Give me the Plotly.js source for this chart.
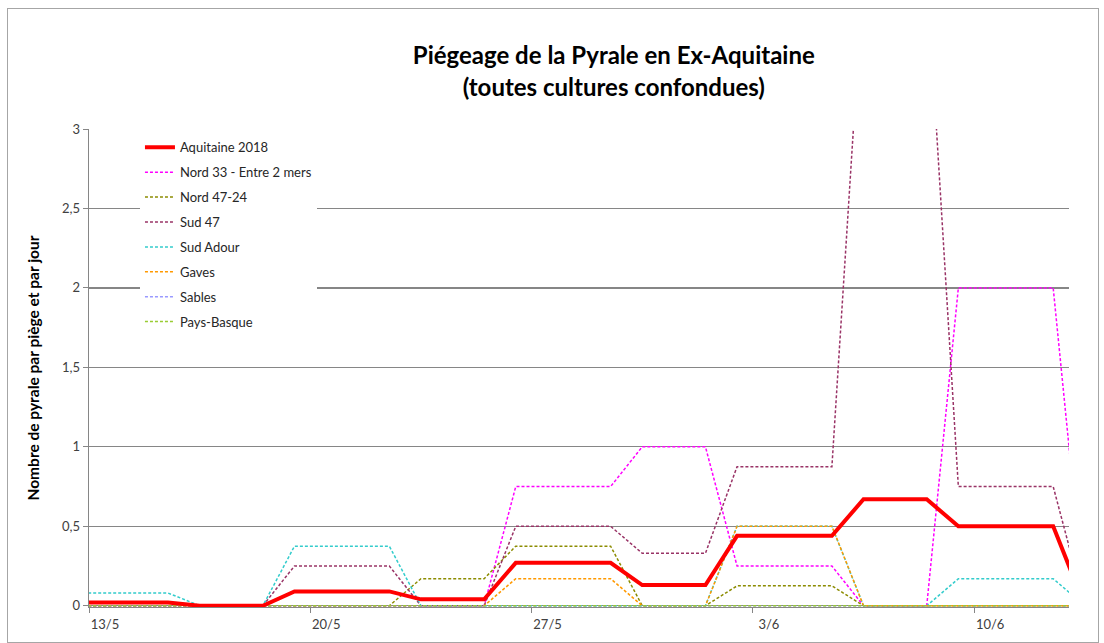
<!DOCTYPE html>
<html>
<head>
<meta charset="utf-8">
<script src="https://cdn.plot.ly/plotly-3.0.1.min.js"></script>
<style>
  html, body { margin: 0; padding: 0; background: #ffffff; }
  #chart { position: absolute; left: 0; top: 0; width: 1104px; height: 643px; }
  #frame { position: absolute; left: 7px; top: 8px; width: 1090px; height: 633px; border: 1px solid #a6a6a6; pointer-events: none; }
</style>
</head>
<body>
<div id="chart"></div>
<div id="frame"></div>
<script>
// Daily dates, 12/5/2018 .. 13/6/2018
const dates = [
  '2018-05-12','2018-05-13','2018-05-14','2018-05-15','2018-05-16','2018-05-17','2018-05-18',
  '2018-05-19','2018-05-20','2018-05-21','2018-05-22','2018-05-23','2018-05-24','2018-05-25',
  '2018-05-26','2018-05-27','2018-05-28','2018-05-29','2018-05-30','2018-05-31','2018-06-01',
  '2018-06-02','2018-06-03','2018-06-04','2018-06-05','2018-06-06','2018-06-07','2018-06-08',
  '2018-06-09','2018-06-10','2018-06-11','2018-06-12','2018-06-13'
];

const aquitaine2018 = [0.02,0.02,0.02,0.02, 0,0,0, 0.09,0.09,0.09,0.09, 0.04,0.04,0.04,
  0.27,0.27,0.27,0.27, 0.13,0.13,0.13, 0.44,0.44,0.44,0.44, 0.67,0.67,0.67, 0.5,0.5,0.5,0.5, 0];
const nord33 = [0,0,0,0, 0,0,0, 0,0,0,0, 0,0,0,
  0.75,0.75,0.75,0.75, 1,1,1, 0.25,0.25,0.25,0.25, 0,0,0, 2,2,2,2, 0];
const nord4724 = [0,0,0,0, 0,0,0, 0,0,0,0, 0.17,0.17,0.17,
  0.375,0.375,0.375,0.375, 0,0,0, 0.125,0.125,0.125,0.125, 0,0,0, 0,0,0,0, 0];
const sud47 = [0,0,0,0, 0,0,0, 0.25,0.25,0.25,0.25, 0,0,0,
  0.5,0.5,0.5,0.5, 0.33,0.33,0.33, 0.875,0.875,0.875,0.875, 4,4,4, 0.75,0.75,0.75,0.75, 0];
const sudAdour = [0.08,0.08,0.08,0.08, 0,0,0, 0.375,0.375,0.375,0.375, 0,0,0,
  0,0,0,0, 0,0,0, 0.5,0.5,0.5,0.5, 0,0,0, 0.17,0.17,0.17,0.17, 0];
const gaves = [0,0,0,0, 0,0,0, 0,0,0,0, 0,0,0,
  0.17,0.17,0.17,0.17, 0,0,0, 0.5,0.5,0.5,0.5, 0,0,0, 0,0,0,0, 0];
const sables = [0,0,0,0, 0,0,0, 0,0,0,0, 0,0,0,
  0,0,0,0, 0,0,0, 0,0,0,0, 0,0,0, 0,0,0,0, 0];
const paysBasque = [0,0,0,0, 0,0,0, 0,0,0,0, 0,0,0,
  0,0,0,0, 0,0,0, 0,0,0,0, 0,0,0, 0,0,0,0, 0];

const tickDates = ['2018-05-13','2018-05-20','2018-05-27','2018-06-03','2018-06-10'];
const tickLabels = ['13/5','20/5','27/5','3/6','10/6'];

const seriesNames = ['Aquitaine 2018','Nord 33 - Entre 2 mers','Nord 47-24','Sud 47','Sud Adour','Gaves','Sables','Pays-Basque'];
const seriesValues = [aquitaine2018, nord33, nord4724, sud47, sudAdour, gaves, sables, paysBasque];
const seriesColors = ['#ff0000','#ff00ff','#8c8c00','#993366','#33cccc','#ff9900','#9999ff','#99cc33'];

const HALF_DAY = 12 * 3600 * 1000;
function shift(d, ms) {
  const t = new Date(d + 'T00:00:00Z').getTime() + ms;
  return new Date(t).toISOString().replace('T', ' ').replace('Z', '').slice(0, 19);
}

const traces = [];
// dashed regional series first, then the main red series on top
for (let i = 1; i < seriesNames.length; i++) {
  traces.push({
    type: 'scatter', mode: 'lines', x: dates, y: seriesValues[i], name: seriesNames[i],
    line: { color: seriesColors[i], width: 1.5, dash: '3px,2px' },
    legendrank: i + 1, legendgroup: 'g' + i, hoverinfo: 'x+y+name'
  });
}
traces.push({
  type: 'scatter', mode: 'lines', x: dates, y: seriesValues[0], name: seriesNames[0],
  line: { color: seriesColors[0], width: 4 },
  legendrank: 1, legendgroup: 'g0'
});

const layout = {
  width: 1104, height: 643,
  margin: { l: 89, r: 35, t: 129, b: 36 },
  paper_bgcolor: '#ffffff', plot_bgcolor: '#ffffff',
  separators: ', ',
  font: { family: 'Lato, "Open Sans", sans-serif', size: 12, color: '#404040' },
  title: {
    text: '<b>Piégeage de la Pyrale en Ex-Aquitaine</b><br><b>(toutes cultures confondues)</b>',
    font: { family: 'Lato, "Open Sans", sans-serif', size: 24, color: '#000000' },
    x: 0.556, xanchor: 'center', y: 0.9, yanchor: 'middle'
  },
  showlegend: true,
  legend: {
    x: 0.052, xanchor: 'left', y: 0.993, yanchor: 'top',
    bgcolor: '#ffffff', borderwidth: 0,
    font: { family: 'Lato, "Open Sans", sans-serif', size: 13, color: '#262626' },
    traceorder: 'grouped', tracegroupgap: 5
  },
  xaxis: {
    type: 'date',
    range: [shift('2018-05-13', -HALF_DAY), shift('2018-06-13', -HALF_DAY)],
    tickmode: 'array',
    tickvals: tickDates.map(d => shift(d, -HALF_DAY)),
    ticktext: tickLabels,
    ticklabelshift: 16,
    ticks: 'outside', ticklen: 5, tickcolor: '#868686', tickwidth: 1,
    showgrid: false, zeroline: false,
    showline: true, linecolor: '#868686', linewidth: 1.3,
    tickfont: { family: 'Lato, "Open Sans", sans-serif', size: 13, color: '#404040' },
    fixedrange: true
  },
  yaxis: {
    range: [-0.008, 3],
    tickmode: 'array',
    tickvals: [0, 0.5, 1, 1.5, 2, 2.5, 3],
    ticks: 'outside', ticklen: 5, tickcolor: '#868686', tickwidth: 1,
    showgrid: true, gridcolor: '#868686', gridwidth: 1.3,
    zeroline: false,
    showline: true, linecolor: '#868686', linewidth: 1.3,
    tickfont: { family: 'Lato, "Open Sans", sans-serif', size: 13, color: '#404040' },
    title: {
      text: '<b>Nombre de pyrale par piège et par jour</b>',
      font: { family: 'Lato, "Open Sans", sans-serif', size: 15.5, color: '#000000' },
      standoff: 18
    },
    fixedrange: true
  }
};

Plotly.newPlot('chart', traces, layout, { displayModeBar: false, staticPlot: true });
</script>
</body>
</html>
